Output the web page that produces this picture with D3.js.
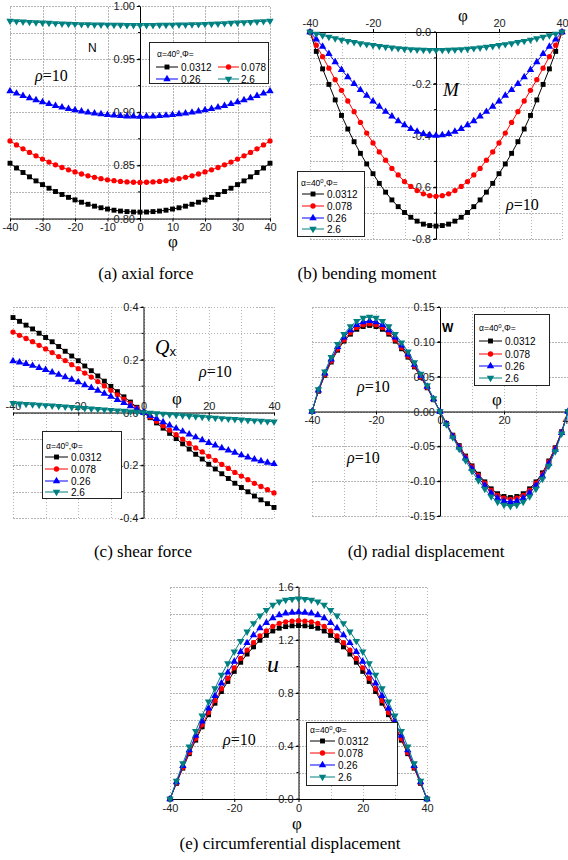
<!DOCTYPE html>
<html><head><meta charset="utf-8">
<script src="https://cdn.jsdelivr.net/npm/d3@7"></script>
<style>
body{margin:0;background:#fff}
.grid{stroke:#b4b4b4;stroke-width:1;stroke-dasharray:1.5,1.5;shape-rendering:crispEdges}
</style>
</head><body><svg id="c" width="568" height="860"></svg>
<script>
// ---------------- DATA ----------------
const phi = [-40,-38,-36,-34,-32,-30,-28,-26,-24,-22,-20,-18,-16,-14,-12,-10,-8,-6,-4,-2,0,2,4,6,8,10,12,14,16,18,20,22,24,26,28,30,32,34,36,38,40];
const seriesNames = ["0.0312","0.078","0.26","2.6"];
const colors = ["#000000","#ff0000","#0000ff","#008080"];

// (a) axial force N
const N_0312 = [.852,.8475,.8433,.8392,.8354,.8319,.8285,.8254,.8226,.8199,.8175,.8153,.8134,.8116,.8101,.8089,.8078,.8070,.8065,.8061,.806,.8061,.8065,.8070,.8078,.8089,.8101,.8116,.8134,.8153,.8175,.8199,.8226,.8254,.8285,.8319,.8354,.8392,.8433,.8475,.852];
const N_078 = [.873,.8692,.8656,.8622,.8590,.8559,.8531,.8505,.8480,.8458,.8438,.8419,.8402,.8388,.8375,.8364,.8356,.8349,.8344,.8341,.834,.8341,.8344,.8349,.8356,.8364,.8375,.8388,.8402,.8419,.8438,.8458,.8480,.8505,.8531,.8559,.8590,.8622,.8656,.8692,.873];
const N_026 = [.920,.9177,.9154,.9133,.9114,.9095,.9078,.9061,.9046,.9033,.9020,.9009,.8998,.8989,.8982,.8975,.8970,.8965,.8962,.8961,.896,.8961,.8962,.8965,.8970,.8975,.8982,.8989,.8998,.9009,.9020,.9033,.9046,.9061,.9078,.9095,.9114,.9133,.9154,.9177,.920];
const N_26 = [.986,.9856,.9852,.9849,.9846,.9843,.9840,.9837,.9834,.9832,.9830,.9828,.9826,.9825,.9824,.9823,.9822,.9821,.982,.982,.982,.982,.982,.9821,.9822,.9823,.9824,.9825,.9826,.9828,.9830,.9832,.9834,.9837,.9840,.9843,.9846,.9849,.9852,.9856,.986];

// (b) bending moment M
const M_0312 = [0,-.075,-.1425,-.2025,-.2625,-.3225,-.375,-.424,-.469,-.51,-.5475,-.585,-.619,-.649,-.675,-.6975,-.716,-.731,-.7425,-.748,-.75,-.748,-.7425,-.731,-.716,-.6975,-.675,-.649,-.619,-.585,-.5475,-.51,-.469,-.424,-.375,-.3225,-.2625,-.2025,-.1425,-.075,0];
const M_078 = [0,-.0508,-.0953,-.1397,-.1842,-.2254,-.2667,-.308,-.3493,-.3905,-.4286,-.4636,-.4953,-.5271,-.5525,-.5779,-.5969,-.6128,-.6255,-.6325,-.635,-.6325,-.6255,-.6128,-.5969,-.5779,-.5525,-.5271,-.4953,-.4636,-.4286,-.3905,-.3493,-.308,-.2667,-.2254,-.1842,-.1397,-.0953,-.0508,0];
const M_026 = [0,-.028,-.056,-.084,-.116,-.146,-.174,-.2,-.224,-.246,-.268,-.288,-.308,-.326,-.344,-.36,-.374,-.3848,-.3932,-.3984,-.4,-.3984,-.3932,-.3848,-.374,-.36,-.344,-.326,-.308,-.288,-.268,-.246,-.224,-.2,-.174,-.146,-.116,-.084,-.056,-.028,0];
const M_26 = [0,-.007,-.0133,-.0189,-.0245,-.0301,-.035,-.0396,-.0438,-.0476,-.0511,-.0546,-.0578,-.0606,-.063,-.0651,-.0669,-.0683,-.0693,-.0698,-.07,-.0698,-.0693,-.0683,-.0669,-.0651,-.063,-.0606,-.0578,-.0546,-.0511,-.0476,-.0438,-.0396,-.035,-.0301,-.0245,-.0189,-.0133,-.007,0];

// (c) shear force Qx
const Q_0312 = [.36,.3456,.3312,.3168,.3006,.2844,.2682,.2502,.2322,.2142,.1962,.1764,.1584,.1386,.1188,.099,.0792,.0594,.0396,.0198,0,-.0198,-.0396,-.0594,-.0792,-.099,-.1188,-.1386,-.1584,-.1764,-.1962,-.2142,-.2322,-.2502,-.2682,-.2844,-.3006,-.3168,-.3312,-.3456,-.36];
const Q_078 = [.305,.2928,.2806,.2684,.2547,.241,.2272,.212,.1967,.1815,.1662,.1495,.1342,.1174,.1007,.0839,.0671,.0503,.0336,.0168,0,-.0168,-.0336,-.0503,-.0671,-.0839,-.1007,-.1174,-.1342,-.1495,-.1662,-.1815,-.1967,-.212,-.2272,-.241,-.2547,-.2684,-.2806,-.2928,-.305];
const Q_026 = [.195,.1901,.1843,.1775,.1697,.1619,.1521,.1433,.1346,.1248,.1151,.1043,.0936,.0829,.0718,.0605,.0484,.0363,.0242,.0121,0,-.0121,-.0242,-.0363,-.0484,-.0605,-.0718,-.0829,-.0936,-.1043,-.1151,-.1248,-.1346,-.1433,-.1521,-.1619,-.1697,-.1775,-.1843,-.1901,-.195];
const Q_26 = [.035,.0335,.032,.0305,.029,.0273,.0256,.0238,.022,.0202,.0184,.0166,.0148,.013,.0111,.0093,.0074,.0056,.0037,.0019,0,-.0019,-.0037,-.0056,-.0074,-.0093,-.0111,-.013,-.0148,-.0166,-.0184,-.0202,-.022,-.0238,-.0256,-.0273,-.029,-.0305,-.032,-.0335,-.035];

// (d) radial displacement W
const W_0312 = [0,.029,.052,.071,.088,.101,.111,.118,.122,.1235,.122,.118,.111,.101,.09,.078,.064,.049,.034,.017,0,-.017,-.034,-.049,-.064,-.078,-.09,-.101,-.111,-.118,-.122,-.1235,-.122,-.118,-.111,-.101,-.088,-.071,-.052,-.029,0];
const W_078 = [0,.0296,.053,.0724,.0898,.103,.1132,.1204,.1244,.126,.1244,.1204,.1132,.103,.0918,.0796,.0653,.05,.0347,.0173,0,-.0173,-.0347,-.05,-.0653,-.0796,-.0918,-.103,-.1132,-.1204,-.1244,-.126,-.1244,-.1204,-.1132,-.103,-.0898,-.0724,-.053,-.0296,0];
const W_026 = [0,.0305,.0548,.0748,.0927,.1064,.1169,.1243,.1285,.130,.1285,.1243,.1169,.1064,.0948,.0821,.0674,.0516,.0358,.0179,0,-.0179,-.0358,-.0516,-.0674,-.0821,-.0948,-.1064,-.1169,-.1243,-.1285,-.130,-.1285,-.1243,-.1169,-.1064,-.0927,-.0748,-.0548,-.0305,0];
const W_26 = [0,.0319,.0572,.0781,.0968,.1111,.1221,.1298,.1342,.1359,.1342,.1298,.1221,.1111,.099,.0858,.0704,.0539,.0374,.0187,0,-.0187,-.0374,-.0539,-.0704,-.0858,-.099,-.1111,-.1221,-.1298,-.1342,-.1359,-.1342,-.1298,-.1221,-.1111,-.0968,-.0781,-.0572,-.0319,0];

// (e) circumferential displacement u
const U_0312 = [0,.1178,.233,.342,.444,.545,.636,.723,.811,.887,.963,1.032,1.094,1.148,1.198,1.235,1.268,1.289,1.301,1.307,1.309,1.307,1.301,1.289,1.268,1.235,1.198,1.148,1.094,1.032,.963,.887,.811,.723,.636,.545,.444,.342,.233,.1178,0];
const U_078 = [0,.121,.2394,.3516,.4566,.5598,.6533,.7432,.833,.9114,.9897,1.0609,1.1241,1.1801,1.2309,1.2691,1.303,1.3252,1.3368,1.343,1.3457,1.343,1.3368,1.3252,1.303,1.2691,1.2309,1.1801,1.1241,1.0609,.9897,.9114,.833,.7432,.6533,.5598,.4566,.3516,.2394,.121,0];
const U_026 = [0,.1268,.2508,.3683,.4784,.5865,.6845,.7786,.8728,.9549,1.0369,1.1115,1.1777,1.2365,1.2896,1.3297,1.3652,1.3885,1.4006,1.4072,1.41,1.4072,1.4006,1.3885,1.3652,1.3297,1.2896,1.2365,1.1777,1.1115,1.0369,.9549,.8728,.7786,.6845,.5865,.4784,.3683,.2508,.1268,0];
const U_26 = [0,.136,.269,.395,.513,.629,.734,.835,.936,1.024,1.112,1.192,1.263,1.326,1.383,1.426,1.464,1.489,1.502,1.509,1.512,1.509,1.502,1.489,1.464,1.426,1.383,1.326,1.263,1.192,1.112,1.024,.936,.835,.734,.629,.513,.395,.269,.136,0];

// ticks
const gridX = [-40,-30,-20,-10,0,10,20,30,40];
const ticksXA = [-40,-30,-20,-10,0,10,20,30,40];
const ticksXB = [-40,-20,20,40];
const ticksX5 = [-40,-20,0,20,40];
const ticksYA = [0.80,0.85,0.90,0.95,1.00];
const gridYA = [0.80,0.825,0.85,0.875,0.90,0.925,0.95,0.975,1.00];
const ticksYB = [0,-0.2,-0.4,-0.6,-0.8];
const gridYB = [0,-0.1,-0.2,-0.3,-0.4,-0.5,-0.6,-0.7,-0.8];
const ticksYC = [0.4,0.2,0,-0.2,-0.4];
const gridYC = [0.4,0.3,0.2,0.1,0,-0.1,-0.2,-0.3,-0.4];
const ticksYD = [0.15,0.10,0.05,0,-0.05,-0.10,-0.15];
const ticksYE = [0,0.4,0.8,1.2,1.6];
const gridYE = [0,0.2,0.4,0.6,0.8,1.0,1.2,1.4,1.6];

// ---------------- DRAW ----------------
[N_0312,N_078,N_026,N_26,M_0312,M_078,M_026,M_26,Q_0312,Q_078,Q_026,Q_26,W_0312,W_078,W_026,W_26,U_0312,U_078,U_026,U_26]
  .forEach((a,i)=>{ if(a.length!==phi.length) console.error("length mismatch", i, a.length); });

const svg = d3.select("#c");
const SANS = "'Liberation Sans', Arial, sans-serif";
const SERIF = "'Liberation Serif', 'Times New Roman', 'DejaVu Serif', serif";
const symTypes = [d3.symbolSquare, d3.symbolCircle, d3.symbolTriangle, d3.symbolTriangle];
const symSizes = [24, 22, 24, 24];
const symRot = [0, 0, 0, 180];

function drawMarker(g, i, cx, cy) {
  g.append("path").attr("d", d3.symbol(symTypes[i], symSizes[i])())
    .attr("transform", `translate(${cx},${cy}) rotate(${symRot[i]})`)
    .attr("fill", colors[i]);
}

function rho(g, x, y) {
  const t = g.append("text").attr("x", x).attr("y", y).style("font-family", SERIF).attr("font-size", 16);
  t.append("tspan").attr("font-style", "italic").text("ρ");
  t.append("tspan").text("=10");
}

function drawPanel(p) {
  const x = d3.scaleLinear().domain([-40, 40]).range(p.xr);
  const y = d3.scaleLinear().domain(p.yd).range(p.yr);
  const g = svg.append("g");
  // grid
  g.append("g").selectAll("line").data(gridX).join("line").attr("class", "grid")
    .attr("x1", d => Math.round(x(d)) + .5).attr("x2", d => Math.round(x(d)) + .5)
    .attr("y1", p.yr[0]).attr("y2", p.yr[1]);
  g.append("g").selectAll("line").data(p.yGrid).join("line").attr("class", "grid")
    .attr("y1", d => Math.round(y(d)) + .5).attr("y2", d => Math.round(y(d)) + .5)
    .attr("x1", p.xr[0]).attr("x2", p.xr[1]);
  // x axis
  const xa = (p.xSide === "top" ? d3.axisTop(x) : d3.axisBottom(x))
    .tickValues(p.xTicks).tickFormat(d => String(d)).tickSize(3).tickSizeOuter(0).tickPadding(2);
  const gxa = g.append("g").attr("transform", `translate(0,${y(p.xAt)})`).call(xa);
  if (p.xLabelAbove) gxa.selectAll("text").attr("y", -3).attr("dy", "0");
  // y axis
  const ya = d3.axisLeft(y).tickValues(p.yTicks).tickFormat(p.yFmt).tickSize(3).tickSizeOuter(0).tickPadding(2);
  const gya = g.append("g").attr("transform", `translate(${x(0)},0)`).call(ya);
  // minor y ticks
  gya.selectAll(".minor").data(p.yGrid).join("line").attr("class","minor")
    .attr("x1", 0).attr("x2", -2).attr("y1", d => y(d)).attr("y2", d => y(d)).attr("stroke", "#000");
  [gxa, gya].forEach(a => {
    a.attr("font-family", SANS).attr("font-size", 11);
    a.selectAll("text").attr("fill", "#222");
    a.selectAll("path,line").attr("stroke", "#000");
  });
  // series
  const line = d3.line().x((d, j) => x(phi[j])).y(d => y(d));
  p.series.forEach((s, i) => {
    g.append("path").attr("d", line(s)).attr("fill", "none").attr("stroke", colors[i]).attr("stroke-width", 1);
    const mg = g.append("g");
    s.forEach((v, j) => drawMarker(mg, i, x(phi[j]), y(v)));
  });
  // legend
  const L = p.legend;
  const lg = svg.append("g");
  lg.append("rect").attr("x", L.box[0] + .5).attr("y", L.box[1] + .5).attr("width", L.box[2]).attr("height", L.box[3])
    .attr("fill", "#fff").attr("stroke", "#222").attr("stroke-width", 1);
  const tt = lg.append("text").attr("x", L.title[0]).attr("y", L.title[1]).attr("font-family", SANS).attr("font-size", 8.5).attr("fill","#000");
  tt.append("tspan").text("α=40");
  tt.append("tspan").attr("font-size", 6).attr("dy", -3.5).text("0");
  tt.append("tspan").attr("dy", 3.5).text(",Φ=");
  L.items.forEach((it, i) => {
    lg.append("line").attr("x1", it[0]).attr("x2", it[1]).attr("y1", it[2]).attr("y2", it[2]).attr("stroke", colors[i]).attr("stroke-width", 1);
    drawMarker(lg, i, (it[0] + it[1]) / 2, it[2]);
    lg.append("text").attr("x", it[3]).attr("y", it[2] + 3.6).attr("font-family", SANS).attr("font-size", 10).attr("fill","#000").text(seriesNames[i]);
  });
  // phi label
  svg.append("text").attr("x", p.phiPos[0]).attr("y", p.phiPos[1]).attr("text-anchor", "middle")
    .style("font-family", SERIF).attr("font-size", 17).text("φ");
  // caption
  svg.append("text").attr("x", p.cap[0]).attr("y", p.cap[1]).attr("text-anchor", "middle")
    .style("font-family", SERIF).attr("font-size", 17).text(p.cap[2]);
  return g;
}

// (a)
drawPanel({
  xr: [10, 270], yd: [0.80, 1.00], yr: [218.5, 6],
  yGrid: gridYA, yTicks: ticksYA, yFmt: d => d.toFixed(2),
  xTicks: ticksXA, xAt: 0.80, xSide: "bottom",
  series: [N_0312, N_078, N_026, N_26],
  legend: { box: [149, 42, 119, 41], title: [157, 57],
    items: [[156, 178, 67, 181], [218, 239, 67, 241], [156, 178, 79, 181], [218, 239, 79, 241]] },
  phiPos: [173, 247], cap: [146, 279, "(a) axial force"]
});
svg.append("text").attr("x", 88).attr("y", 52).attr("font-family", SANS).attr("font-size", 12).text("N");
rho(svg, 35, 81);

// (b)
drawPanel({
  xr: [310, 562], yd: [-0.8, 0], yr: [239, 32],
  yGrid: gridYB, yTicks: ticksYB, yFmt: d => d.toFixed(1),
  xTicks: ticksXB, xAt: 0, xSide: "top",
  series: [M_0312, M_078, M_026, M_26],
  legend: { box: [297, 171, 67, 65], title: [301, 186],
    items: [[302, 324, 194, 327], [302, 324, 206, 327], [302, 324, 218, 327], [302, 324, 229, 327]] },
  phiPos: [463, 21], cap: [367, 279, "(b) bending moment"]
});
svg.append("text").attr("x", 443).attr("y", 96).style("font-family", SERIF).attr("font-style", "italic").attr("font-size", 19).text("M");
rho(svg, 506, 210);

// (c)
drawPanel({
  xr: [13, 274], yd: [-0.4, 0.4], yr: [518, 307],
  yGrid: gridYC, yTicks: ticksYC, yFmt: d => d.toFixed(1),
  xTicks: ticksX5, xAt: 0, xSide: "bottom", xLabelAbove: true,
  series: [Q_0312, Q_078, Q_026, Q_26],
  legend: { box: [42, 431, 79, 67], title: [46, 449],
    items: [[45, 68, 457, 71], [45, 68, 469, 71], [45, 68, 481, 71], [45, 68, 492, 71]] },
  phiPos: [177, 404], cap: [143, 557, "(c) shear force"]
});
{
  const t = svg.append("text").attr("x", 155).attr("y", 354).style("font-family", SERIF).attr("font-size", 20);
  t.append("tspan").attr("font-style", "italic").text("Q");
  t.append("tspan").style("font-family", SANS).attr("font-size", 13).attr("dy", 2).text("x");
}
rho(svg, 199, 377);

// (d)
drawPanel({
  xr: [312, 568], yd: [-0.15, 0.15], yr: [516, 307],
  yGrid: ticksYD, yTicks: ticksYD, yFmt: d => d.toFixed(2),
  xTicks: ticksX5, xAt: 0, xSide: "bottom",
  series: [W_0312, W_078, W_026, W_26],
  legend: { box: [474, 314, 75, 71], title: [479, 331],
    items: [[479, 502, 341, 505], [479, 502, 354, 505], [479, 502, 366, 505], [479, 502, 378, 505]] },
  phiPos: [497, 405], cap: [426, 557, "(d) radial displacement"]
});
svg.append("text").attr("x", 442).attr("y", 332).attr("font-family", SANS).attr("font-weight", "bold").attr("font-size", 12).text("W");
rho(svg, 357, 392);
rho(svg, 347, 463);

// (e)
drawPanel({
  xr: [170, 427], yd: [0, 1.6], yr: [799, 587],
  yGrid: gridYE, yTicks: ticksYE, yFmt: d => d.toFixed(1),
  xTicks: ticksX5, xAt: 0, xSide: "bottom",
  series: [U_0312, U_078, U_026, U_26],
  legend: { box: [306, 722, 91, 63], title: [310, 733],
    items: [[310, 335, 741, 338], [310, 335, 753, 338], [310, 335, 765, 338], [310, 335, 777, 338]] },
  phiPos: [297, 829], cap: [290, 849, "(e) circumferential displacement"]
});
svg.append("text").attr("x", 267).attr("y", 672).style("font-family", SERIF).attr("font-style", "italic").attr("font-size", 24).text("u");
rho(svg, 223, 745);
</script>
</body></html>
